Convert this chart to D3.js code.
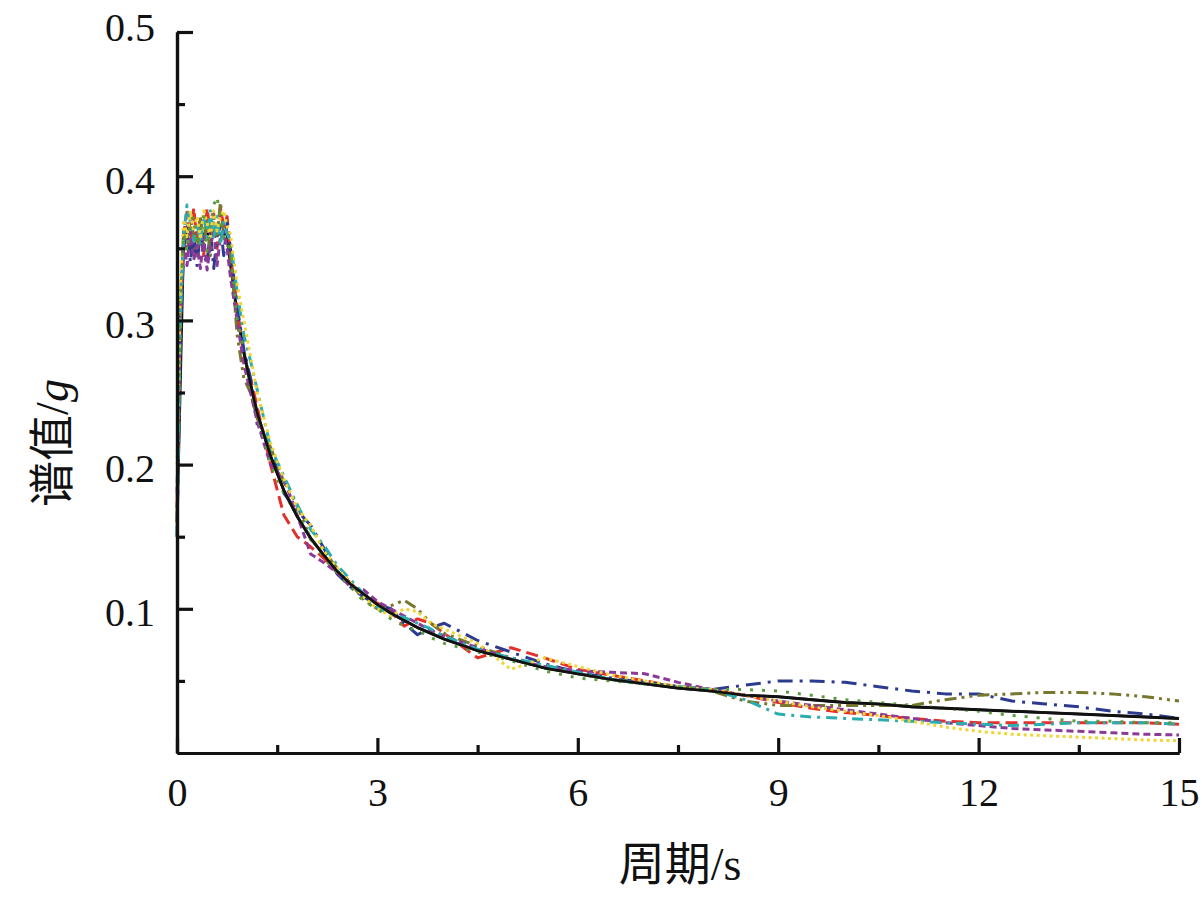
<!DOCTYPE html>
<html>
<head>
<meta charset="utf-8">
<script src="https://cdn.jsdelivr.net/npm/d3@7"></script>
<style>
  html, body { margin: 0; padding: 0; background: #fff; }
  svg { display: block; }
</style>
</head>
<body>
<svg id="chart" width="1202" height="900"></svg>
<script>
// ---- data ----
const periods = [0, 0.05, 0.1, 0.15, 0.2, 0.25, 0.3, 0.35, 0.4, 0.45, 0.5, 0.55, 0.6, 0.65, 0.7, 0.75, 0.8,
  0.9, 1.0, 1.1, 1.2, 1.4, 1.6, 1.8, 2.0, 2.2, 2.4, 2.6, 2.8, 3.0, 3.2, 3.4, 3.6, 3.8, 4.0,
  4.5, 5.0, 5.5, 6.0, 6.5, 7.0, 7.5, 8.0, 8.5, 9.0, 9.5, 10, 10.5, 11, 11.5, 12, 12.5, 13, 13.5, 14, 14.5, 15];

const designSpectrum = [0.16, 0.26, 0.36, 0.36, 0.36, 0.36, 0.36, 0.36, 0.36, 0.36, 0.36, 0.36, 0.36, 0.36, 0.36, 0.36, 0.339,
  0.305, 0.278, 0.256, 0.236, 0.206, 0.182, 0.164, 0.149, 0.137, 0.126, 0.117, 0.110, 0.103, 0.097, 0.092, 0.087, 0.083, 0.079,
  0.071, 0.065, 0.059, 0.055, 0.051, 0.048, 0.045, 0.043, 0.040, 0.039, 0.037, 0.035, 0.034, 0.032, 0.031, 0.030, 0.029, 0.028, 0.027, 0.026, 0.025, 0.024];

const waveRed = [0.17, 0.30, 0.36, 0.375, 0.35, 0.378, 0.355, 0.372, 0.345, 0.378, 0.36, 0.374, 0.35, 0.378, 0.365, 0.372, 0.345,
  0.31, 0.275, 0.26, 0.24, 0.2, 0.165, 0.15, 0.143, 0.135, 0.125, 0.118, 0.108, 0.104, 0.098, 0.088, 0.093, 0.09, 0.083,
  0.066, 0.073, 0.066, 0.058, 0.054, 0.05, 0.046, 0.044, 0.04, 0.035, 0.031, 0.028, 0.026, 0.024, 0.022, 0.021, 0.021, 0.021, 0.021, 0.021, 0.021, 0.020];

const waveNavy = [0.15, 0.29, 0.35, 0.365, 0.34, 0.36, 0.338, 0.362, 0.345, 0.34, 0.362, 0.336, 0.358, 0.366, 0.345, 0.368, 0.35,
  0.31, 0.28, 0.26, 0.228, 0.212, 0.18, 0.168, 0.158, 0.142, 0.124, 0.115, 0.108, 0.103, 0.1, 0.09, 0.082, 0.087, 0.09,
  0.078, 0.07, 0.062, 0.056, 0.052, 0.049, 0.046, 0.044, 0.047, 0.050, 0.050, 0.049, 0.046, 0.043, 0.041, 0.041, 0.036, 0.034, 0.032, 0.029, 0.027, 0.024];

const waveOlive = [0.16, 0.31, 0.365, 0.35, 0.372, 0.358, 0.345, 0.372, 0.352, 0.368, 0.345, 0.372, 0.358, 0.382, 0.358, 0.352, 0.35,
  0.29, 0.26, 0.25, 0.232, 0.212, 0.188, 0.172, 0.148, 0.14, 0.128, 0.118, 0.106, 0.1, 0.102, 0.106, 0.1, 0.09, 0.083,
  0.074, 0.066, 0.06, 0.055, 0.051, 0.048, 0.046, 0.043, 0.036, 0.033, 0.033, 0.033, 0.033, 0.033, 0.037, 0.040, 0.041, 0.042, 0.042, 0.041, 0.039, 0.036];

const wavePurple = [0.18, 0.3, 0.355, 0.338, 0.362, 0.342, 0.352, 0.336, 0.358, 0.335, 0.352, 0.362, 0.338, 0.358, 0.362, 0.35, 0.33,
  0.3, 0.27, 0.25, 0.23, 0.2, 0.19, 0.165, 0.138, 0.132, 0.125, 0.115, 0.113, 0.105, 0.1, 0.095, 0.09, 0.085, 0.081,
  0.073, 0.065, 0.06, 0.057, 0.056, 0.055, 0.049, 0.044, 0.04, 0.036, 0.033, 0.03, 0.027, 0.024, 0.021, 0.019, 0.017, 0.016, 0.015, 0.014, 0.013, 0.0125];

const waveCyan = [0.15, 0.3, 0.36, 0.38, 0.368, 0.355, 0.368, 0.352, 0.372, 0.358, 0.376, 0.356, 0.372, 0.352, 0.368, 0.36, 0.355,
  0.32, 0.29, 0.272, 0.252, 0.212, 0.192, 0.172, 0.155, 0.144, 0.13, 0.12, 0.11, 0.101, 0.096, 0.094, 0.09, 0.086, 0.081,
  0.072, 0.066, 0.061, 0.056, 0.051, 0.048, 0.046, 0.044, 0.037, 0.027, 0.025, 0.024, 0.023, 0.022, 0.021, 0.020, 0.019, 0.020, 0.021, 0.021, 0.021, 0.020];

const waveYellow = [0.2, 0.32, 0.37, 0.358, 0.376, 0.362, 0.372, 0.358, 0.376, 0.368, 0.358, 0.376, 0.362, 0.372, 0.376, 0.365, 0.36,
  0.325, 0.3, 0.275, 0.25, 0.215, 0.19, 0.17, 0.158, 0.14, 0.128, 0.118, 0.108, 0.1, 0.095, 0.1, 0.098, 0.09, 0.086,
  0.076, 0.058, 0.066, 0.06, 0.054, 0.05, 0.046, 0.044, 0.04, 0.036, 0.032, 0.029, 0.026, 0.022, 0.018, 0.015, 0.013, 0.012, 0.011, 0.010, 0.009, 0.0085];

const waveGreen = [0.17, 0.31, 0.36, 0.348, 0.366, 0.372, 0.352, 0.362, 0.372, 0.348, 0.366, 0.38, 0.386, 0.37, 0.358, 0.355, 0.35,
  0.3, 0.28, 0.255, 0.235, 0.2, 0.18, 0.165, 0.15, 0.135, 0.125, 0.115, 0.105, 0.1, 0.093, 0.088, 0.085, 0.08, 0.076,
  0.07, 0.064, 0.057, 0.052, 0.05, 0.048, 0.046, 0.044, 0.044, 0.043, 0.04, 0.037, 0.035, 0.033, 0.031, 0.029, 0.026, 0.024, 0.022, 0.022, 0.021, 0.021];

const xTicks = [0, 3, 6, 9, 12, 15];
const xMinorTicks = [1.5, 4.5, 7.5, 10.5, 13.5];
const yTicks = [0.1, 0.2, 0.3, 0.4, 0.5];
const yMinorTicks = [0.05, 0.15, 0.25, 0.35, 0.45];

const series = [
  { values: waveRed,    color: "#e3302a", dash: "12,6" },
  { values: waveNavy,   color: "#2c3a8f", dash: "15,7,3,7" },
  { values: waveOlive,  color: "#77772f", dash: "12,5,3,5,3,5" },
  { values: wavePurple, color: "#8b3a98", dash: "7,4" },
  { values: waveCyan,   color: "#2badb0", dash: "11,6,3,6" },
  { values: waveYellow, color: "#f0d534", dash: "3,3.5" },
  { values: waveGreen,  color: "#5c9a3e", dash: "3,9" }
];

// ---- chart ----
const svg = d3.select("#chart");
const x = d3.scaleLinear().domain([0, 15]).range([177, 1179]);
const y = d3.scaleLinear().domain([0, 0.5]).range([753, 32]);

const serif = "'Liberation Serif', 'Times New Roman', serif";

const line = d3.line()
  .x(d => x(d[0]))
  .y(d => y(d[1]));
const pairs = vals => vals.map((v, i) => [periods[i], v]);

const plot = svg.append("g");
// design spectrum underneath (plateau hidden by records)
plot.append("path")
  .attr("d", line(pairs(designSpectrum)))
  .attr("fill", "none")
  .attr("stroke", "#111")
  .attr("stroke-width", 3)
  .attr("stroke-linejoin", "round");
series.forEach(s => {
  plot.append("path")
    .attr("d", line(pairs(s.values)))
    .attr("fill", "none")
    .attr("stroke", s.color)
    .attr("stroke-width", 3)
    .attr("stroke-dasharray", s.dash)
    .attr("stroke-linejoin", "round");
});
// design spectrum descending branch on top
plot.append("path")
  .attr("d", line(pairs(designSpectrum).filter(d => d[0] >= 1.0)))
  .attr("fill", "none")
  .attr("stroke", "#111")
  .attr("stroke-width", 2.6)
  .attr("stroke-linejoin", "round");

// axes
const xAxis = svg.append("g").attr("transform", "translate(0,753)")
  .call(d3.axisBottom(x).tickValues(xTicks).tickFormat(d3.format("d"))
    .tickSizeInner(-15).tickSizeOuter(0).tickPadding(25));
const xMinor = svg.append("g").attr("transform", "translate(0,753)")
  .call(d3.axisBottom(x).tickValues(xMinorTicks).tickFormat("")
    .tickSizeInner(-8).tickSizeOuter(0));
const yAxis = svg.append("g").attr("transform", "translate(177,0)")
  .call(d3.axisLeft(y).tickValues(yTicks).tickFormat(d3.format(".1f"))
    .tickSizeInner(-16).tickSizeOuter(0).tickPadding(22));
const yMinor = svg.append("g").attr("transform", "translate(177,0)")
  .call(d3.axisLeft(y).tickValues(yMinorTicks).tickFormat("")
    .tickSizeInner(-8).tickSizeOuter(0));

[xAxis, xMinor, yAxis, yMinor].forEach(g => {
  g.selectAll("path.domain").attr("stroke", "#111").attr("stroke-width", 3.2);
  g.selectAll(".tick line").attr("stroke", "#111").attr("stroke-width", 3.2);
  g.selectAll(".tick text").attr("font-family", serif).attr("font-size", 40).attr("fill", "#111");
});
yAxis.selectAll(".tick text").attr("dy", d => d === 0.5 ? "0.2em" : "0.42em");
xAxis.selectAll(".tick text").attr("dy", "0.71em");

// axis titles
const xt = svg.append("text")
  .attr("x", 680).attr("y", 880)
  .attr("text-anchor", "middle")
  .attr("font-size", 46).attr("fill", "#111");
xt.append("tspan").attr("font-family", "'Noto Sans CJK SC', sans-serif").text("周期");
xt.append("tspan").attr("font-family", serif).text("/s");

const yt = svg.append("text")
  .attr("transform", "translate(68,443) rotate(-90)")
  .attr("text-anchor", "middle")
  .attr("font-size", 46).attr("fill", "#111");
yt.append("tspan").attr("font-family", "'Noto Sans CJK SC', sans-serif").text("谱值");
yt.append("tspan").attr("font-family", serif).text("/");
yt.append("tspan").attr("font-family", serif).attr("font-style", "italic").text("g");
</script>
</body>
</html>
